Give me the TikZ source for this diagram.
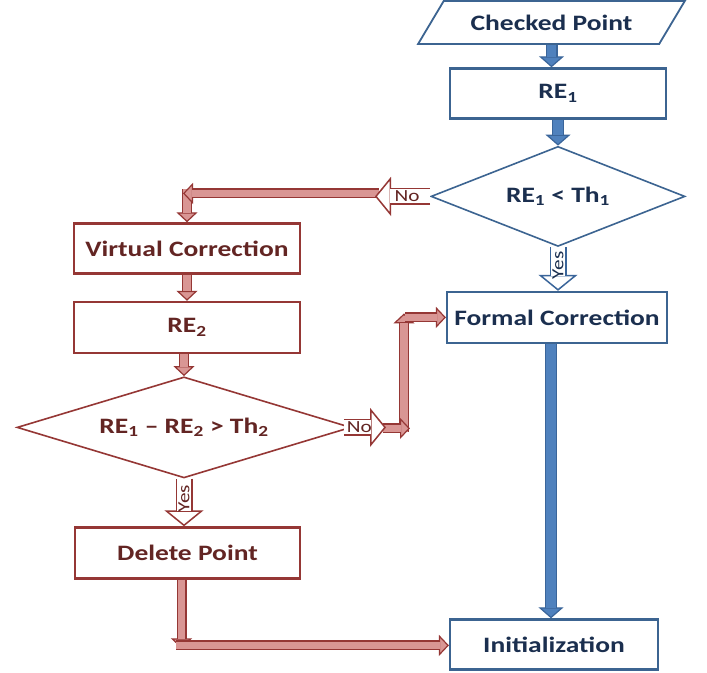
\documentclass[tikz,border=0pt]{standalone}
\usepackage{fontspec}
\setmainfont{Carlito}[FakeStretch=1.25]
\usetikzlibrary{shapes.geometric,arrows.meta,calc}

\definecolor{boxblue}{HTML}{3C6491}
\definecolor{textblue}{HTML}{1B2F4F}
\definecolor{fillblue}{HTML}{4F81BD}
\definecolor{edgeblue}{HTML}{3A659A}
\definecolor{boxred}{HTML}{953735}
\definecolor{textred}{HTML}{632523}
\definecolor{fillpink}{HTML}{D99694}

\begin{document}
\begin{tikzpicture}[x=1pt,y=-1pt]
  % Define styles for boxes and block arrows
  \tikzset{
    box node/.style={rectangle, draw, line width=2.2pt, fill=white, inner sep=0pt,
      font=\fontsize{22}{25}\selectfont\bfseries},
    blue node/.style={box node, draw=boxblue, text=textblue},
    red node/.style={box node, draw=boxred, text=textred},
    yesno/.style={font=\fontsize{17}{19}\selectfont, inner sep=0pt},
    blue link/.style={line width=12pt, draw=edgeblue,
      -{Triangle[length=11pt, width=25pt, line width=1.2pt, fill=fillblue]},
      postaction={draw=fillblue, line width=9.6pt, -, shorten >=10.4pt}},
    pink link/.style={line width=10pt, draw=boxred,
      -{Triangle[length=10pt, width=21pt, line width=1.2pt, fill=fillpink]},
      postaction={draw=fillpink, line width=7.6pt, -, shorten >=9.4pt}},
    open link/.style={line width=17pt,
      -{Triangle[length=16pt, width=39pt, line width=1.5pt, fill=white]},
      postaction={draw=white, line width=14pt, -, shorten >=15.2pt}}
  }

  \path[fill=white] (0,0) rectangle (707,672);

  % Right column
  \node[blue node, trapezium, trapezium left angle=39, trapezium right angle=141,
    trapezium stretches=true, minimum width=267pt, minimum height=43pt,
    line width=1.8pt] (cp) at (551.5,22) {Checked Point};
  \node[blue node, minimum width=216pt, minimum height=50pt] (re1) at (558,93) {RE\textsubscript{1}};
  \node[blue node, diamond, aspect=2.5, minimum width=254pt, minimum height=100pt,
    line width=1.6pt] (d1) at (558,196) {RE\textsubscript{1} < Th\textsubscript{1}};
  \node[blue node, minimum width=220pt, minimum height=51pt] (fc) at (557,317) {Formal Correction};
  \node[blue node, minimum width=208pt, minimum height=50pt] (init) at (554,644) {Initialization};

  % Left column
  \node[red node, minimum width=226pt, minimum height=50pt] (vc) at (187,248) {Virtual Correction};
  \node[red node, minimum width=226pt, minimum height=51pt] (re2) at (187,327) {RE\textsubscript{2}};
  \node[red node, diamond, aspect=3.3, minimum width=334pt, minimum height=101pt,
    line width=1.6pt] (d2) at (184,427) {RE\textsubscript{1} -- RE\textsubscript{2} > Th\textsubscript{2}};
  \node[red node, minimum width=225pt, minimum height=51pt] (dp) at (187.5,552.5) {Delete Point};

  % Ends of the bent arrows
  \coordinate (no1) at (375,196);
  \coordinate (no2) at (386,427);
  \coordinate (t1) at (379,193);
  \coordinate (t2) at (183,193);
  \coordinate (t3) at (187,189);
  \coordinate (r1) at (404,432);
  \coordinate (r2) at (404,313);
  \coordinate (r3) at (383,428);
  \coordinate (r4) at (410,428);
  \coordinate (r5) at (405,317);
  \coordinate (b1) at ($(dp.south)+(-6,0)$);
  \coordinate (b2) at (181.5,648);
  \coordinate (b3) at (176,645);
  \coordinate (f1) at ($(fc.south)+(-6,0)$);
  \coordinate (n2) at ($(d2.east)+(-8,0)$);

  % Blue arrows
  \draw[blue link] (cp.south) -- (cp.south |- re1.north);
  \draw[blue link] (d1.north |- re1.south) -- (d1.north);
  \draw[blue link] (f1) -- (f1 |- init.north);

  % Pink arrows
  \draw[pink link] (vc.south) -- (re2.north);
  \draw[pink link] (d2.north |- re2.south) -- (d2.north);
  \draw[pink link] (t3) -- (t3 |- vc.north);
  \draw[pink link] (t1) -- (t2);
  \draw[pink link] (r1) -- (r2);
  \draw[pink link] (r3) -- (r4);
  \draw[pink link] (r5) -- (r5 -| fc.west);
  \draw[pink link] (b1) -- (b2);
  \draw[pink link] (b3) -- (b3 -| init.west);

  % Yes and No arrows
  \draw[open link, draw=edgeblue] (d1.south) -- (d1.south |- fc.north)
    node[yesno, text=textblue, pos=0.42, rotate=90] {Yes};
  \draw[open link, draw=boxred] (d1.west) -- (no1)
    node[yesno, text=textred, pos=0.42] {No};
  \draw[open link, draw=boxred] (n2) -- (no2)
    node[yesno, text=textred, pos=0.37] {No};
  \draw[open link, draw=boxred] (d2.south) -- (d2.south |- dp.north)
    node[yesno, text=textred, pos=0.42, rotate=90] {Yes};
\end{tikzpicture}
\end{document}
